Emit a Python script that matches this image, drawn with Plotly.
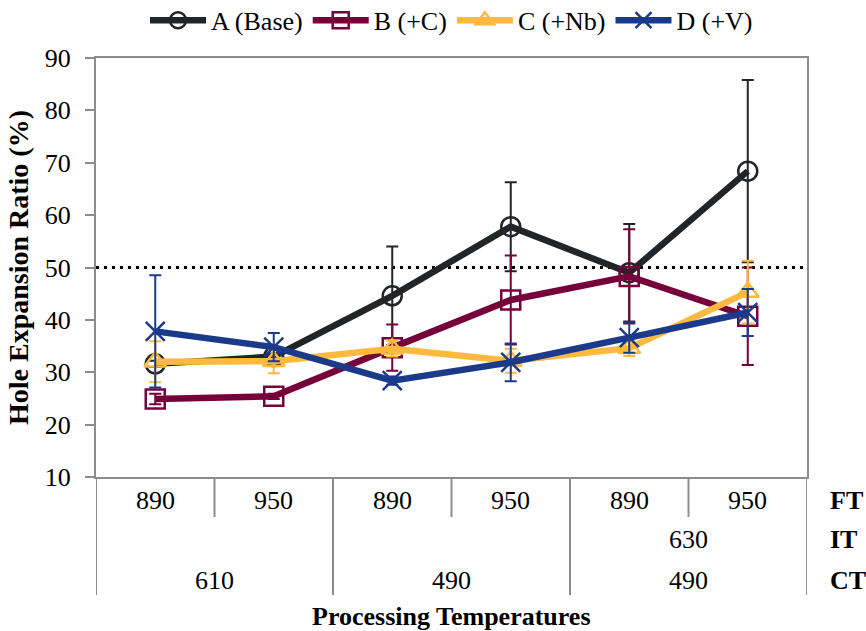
import plotly.graph_objects as go

# Processing temperatures for each of the six conditions
ft_labels = ["890", "950", "890", "950", "890", "950"]
it_groups = ["", "", "630"]
ct_groups = ["610", "490", "490"]
row_names = ["FT", "IT", "CT"]

# Hole expansion ratio (%) and error for each steel
series_names = ["A (Base)", "B (+C)", "C (+Nb)", "D (+V)"]
her_a = [31.6, 33.0, 44.6, 57.8, 49.0, 68.4]
err_a = [0.6, 0.6, 9.4, 8.5, 9.3, 17.4]
her_b = [24.9, 25.4, 34.7, 43.8, 48.3, 40.7]
err_b = [1.0, 0.5, 4.4, 8.5, 9.0, 9.3]
her_c = [32.0, 32.1, 34.5, 32.2, 34.6, 45.3]
err_c = [3.9, 2.3, 1.5, 2.3, 1.5, 6.0]
her_d = [37.8, 34.8, 28.4, 31.9, 36.6, 41.4]
err_d = [10.7, 2.7, 0.8, 3.6, 2.9, 4.5]
target_her = 50

colors = ["#222527", "#76003A", "#FFB93F", "#1B3A8A"]
symbols = ["circle-open", "square-open", "triangle-up-open", "x-thin-open"]
values = [her_a, her_b, her_c, her_d]
errors = [err_a, err_b, err_c, err_d]

FONT = "Liberation Serif"
FS = 26
AXIS_GREY = "#8C8C8C"

x_pos = list(range(len(ft_labels)))

fig = go.Figure()
for name, col, sym, v, e in zip(series_names, colors, symbols, values, errors):
    fig.add_trace(go.Scatter(
        x=x_pos, y=v, name=name, mode="lines+markers",
        line=dict(color=col, width=6.5),
        marker=dict(symbol=sym, size=19, color=col,
                    line=dict(color=col, width=2.5)),
        error_y=dict(type="data", array=e, visible=True,
                     color=col, thickness=2, width=6),
    ))

# Reference level
fig.add_shape(type="line", xref="paper", yref="y", x0=0, x1=1,
              y0=target_her, y1=target_her,
              line=dict(color="black", width=3, dash="3px,5px"), layer="below")

# Multi-level category table under the plot
ROW_Y = [-0.055, -0.150, -0.246]
SHORT_BOTTOM = -0.0955
LONG_BOTTOM = -0.2816
n_per_group = len(ft_labels) // len(ct_groups)

for i in range(len(ft_labels) + 1):
    xb = i - 0.5
    is_long = (i % n_per_group == 0)
    fig.add_shape(type="line", xref="x", yref="paper", x0=xb, x1=xb,
                  y0=0, y1=LONG_BOTTOM if is_long else SHORT_BOTTOM,
                  line=dict(color=AXIS_GREY, width=2))

for i, lab in enumerate(ft_labels):
    fig.add_annotation(x=i, y=ROW_Y[0], xref="x", yref="paper", text=lab,
                       showarrow=False, yanchor="middle",
                       font=dict(family=FONT, size=FS, color="black"))

for g, (it, ct) in enumerate(zip(it_groups, ct_groups)):
    xc = g * n_per_group + (n_per_group - 1) / 2
    if it:
        fig.add_annotation(x=xc, y=ROW_Y[1], xref="x", yref="paper", text=it,
                           showarrow=False, yanchor="middle",
                           font=dict(family=FONT, size=FS, color="black"))
    fig.add_annotation(x=xc, y=ROW_Y[2], xref="x", yref="paper", text=ct,
                       showarrow=False, yanchor="middle",
                       font=dict(family=FONT, size=FS, color="black"))

for r, nm in enumerate(row_names):
    fig.add_annotation(x=1.03, y=ROW_Y[r], xref="paper", yref="paper",
                       text=f"<b>{nm}</b>", showarrow=False,
                       xanchor="left", yanchor="middle",
                       font=dict(family=FONT, size=FS, color="black"))

fig.add_annotation(x=0.5, y=-0.332, xref="paper", yref="paper",
                   text="<b>Processing Temperatures</b>", showarrow=False,
                   yanchor="middle",
                   font=dict(family=FONT, size=FS, color="black"))

fig.update_layout(
    width=866, height=631,
    margin=dict(l=96, r=59, t=58, b=154, autoexpand=False),
    paper_bgcolor="white", plot_bgcolor="white",
    font=dict(family=FONT, size=FS, color="black"),
    showlegend=True,
    legend=dict(orientation="h", x=0.5, xanchor="center",
                y=1.09, yanchor="middle",
                font=dict(family=FONT, size=FS, color="black"),
                itemwidth=56, tracegroupgap=0,
                bgcolor="rgba(0,0,0,0)"),
)

fig.update_xaxes(range=[-0.5, 5.5], showticklabels=False, ticks="",
                 showgrid=False, zeroline=False, showline=True,
                 linecolor=AXIS_GREY, linewidth=2, mirror=True)
fig.update_yaxes(range=[10, 90], dtick=10, tick0=10, ticks="outside",
                 ticklen=9, tickwidth=2, tickcolor=AXIS_GREY,
                 ticklabelstandoff=9,
                 showgrid=False, zeroline=False, showline=True,
                 linecolor=AXIS_GREY, linewidth=2, mirror=True,
                 tickfont=dict(family=FONT, size=FS, color="black"),
                 title=dict(text="<b>Hole Expansion Ratio (%)</b>",
                            standoff=8,
                            font=dict(family=FONT, size=28, color="black")))

fig.write_html("out.html")
